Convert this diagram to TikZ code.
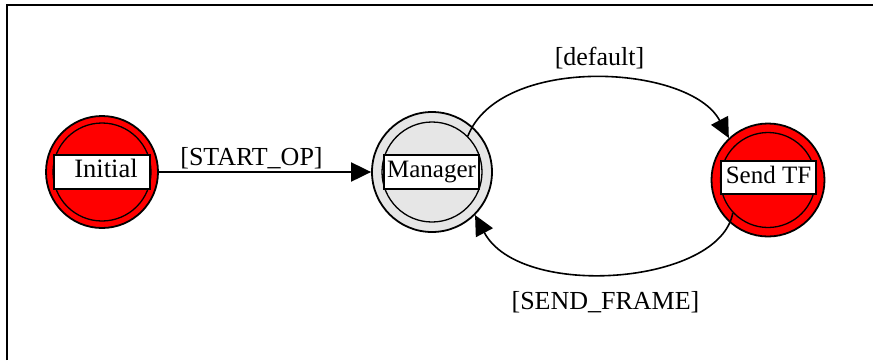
\documentclass[tikz,border=0pt]{standalone}
\usepackage{fontspec}
\setmainfont{Liberation Serif}
\usetikzlibrary{arrows.meta}
\definecolor{stred}{HTML}{FF0000}
\definecolor{stgray}{HTML}{E6E6E6}
\tikzset{
  outerst/.style={circle, draw=black, line width=1.8pt, inner sep=0pt, minimum size=#1},
  innerst/.style={circle, draw=black, line width=1.3pt, inner sep=0pt, minimum size=#1},
  lbox/.style={rectangle, draw=black, fill=white, line width=1.8pt, inner sep=0pt,
    minimum width=95pt, minimum height=34pt, text height=17pt, text depth=6pt,
    font=\fontsize{25}{30}\selectfont},
  elab/.style={font=\fontsize{26}{31}\selectfont, inner sep=0pt, anchor=base},
  conn/.style={line width=1.6pt, -{Triangle[length=20pt,width=19pt]}},
}
\begin{document}
\begin{tikzpicture}[x=1pt,y=-1pt]
\useasboundingbox (0,0) rectangle (873,360);
\draw[line width=2pt] (7,360) -- (7,5) -- (873,5);
% Initial
\node[outerst=112pt, fill=stred] (init) at (102,172) {};
\node[innerst=98pt] (initin) at (init.center) {};
\node[lbox, minimum width=96pt] (initl) at (102,172) {\hspace*{8pt}\fontsize{26.5}{31}\selectfont Initial};
% Manager
\node[outerst=120pt, fill=stgray] (mgr) at (432,172) {};
\node[innerst=100pt] (mgrin) at (mgr.center) {};
\node[lbox] (mgrl) at (431.5,172) {Manager};
% Send TF
\node[outerst=113pt, fill=stred] (stf) at (768,180) {};
\node[innerst=95pt] (stfin) at (stf.center) {};
\node[lbox, minimum height=33pt] (stfl) at (768.5,177.5) {Send TF};
% connectors
\draw[conn, line width=2pt] (init) -- (mgr);
\node[elab] (lstart) at (251.5,165) {[START\_OP]};
\draw[conn] (mgrin.45) .. controls (500,54) and (690,64) .. (stf.133);
\node[elab] (ldef) at (599.5,65) {[default]};
\draw[conn] (stfin.223) .. controls (720,285) and (520,300) .. (mgr.-45);
\node[elab] (lsend) at (605.5,309) {[SEND\_FRAME]};
\end{tikzpicture}
\end{document}
